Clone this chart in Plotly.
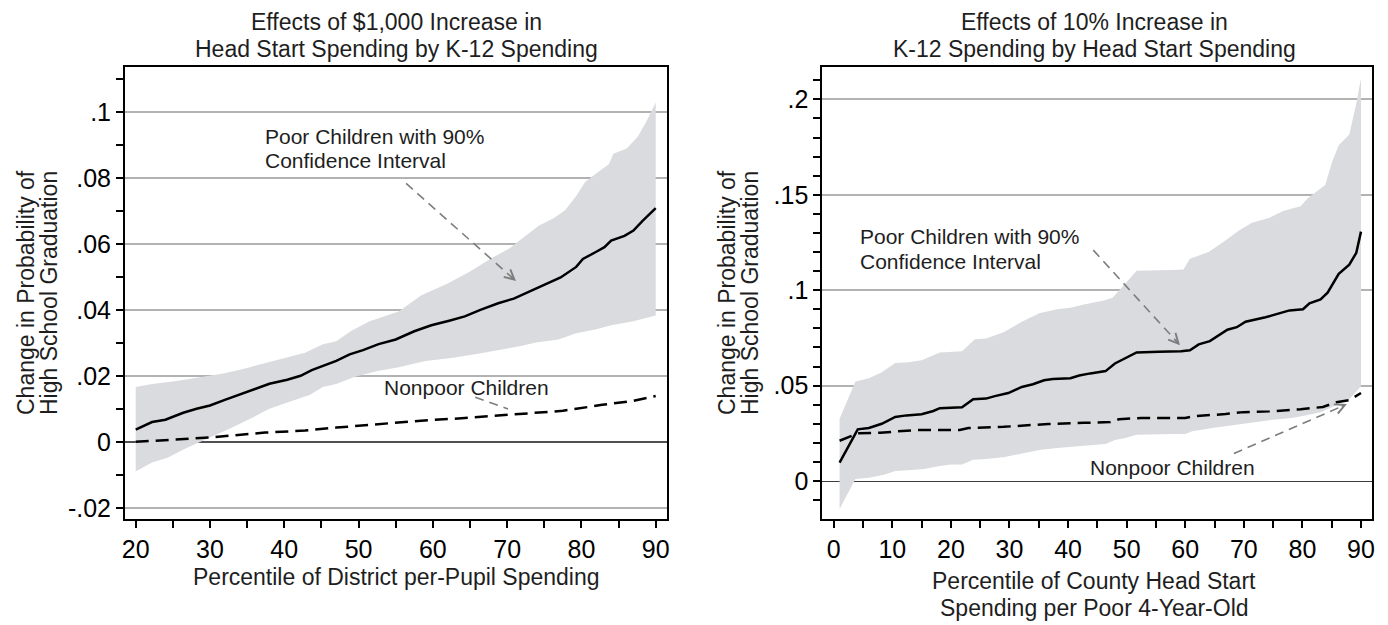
import plotly.graph_objects as go

# ---------------- Left panel data ----------------
left_poor_x = [20, 22.2, 24, 26.4, 28.2, 30, 32, 33.9, 35.9, 38, 40.4, 42.2, 43.7, 45.2, 47, 48.8, 50.6,
               52.7, 55, 57.5, 59.8, 62.2, 64.3, 66.4, 68.8, 70.9, 73.3, 75.4, 77.2, 79.3, 80.2, 82, 83.1,
               84, 85.8, 87, 88.2, 90]
left_poor_y = [0.0037, 0.006, 0.0067, 0.0088, 0.010, 0.011, 0.0127, 0.0142, 0.0158, 0.0176, 0.0188, 0.020,
               0.0217, 0.023, 0.0245, 0.0265, 0.0278, 0.0296, 0.031, 0.0335, 0.0353, 0.0367, 0.038, 0.040,
               0.042, 0.0434, 0.0458, 0.048, 0.0498, 0.053, 0.0554, 0.0576, 0.059, 0.061, 0.0624, 0.064,
               0.0669, 0.0708]
left_upper_x = [20, 22.2, 25.5, 29.7, 32, 35, 38.6, 42.8, 45.2, 47, 49.1, 51.5, 55.4, 58.4, 62, 65, 68, 70.3,
                71.8, 74.2, 76.3, 77.8, 79.3, 80.5, 82.2, 83.7, 84.3, 86.1, 87.6, 88.8, 90]
left_upper_y = [0.0166, 0.0175, 0.0184, 0.020, 0.0208, 0.0224, 0.0245, 0.027, 0.0296, 0.0305, 0.0337, 0.0365,
                0.0395, 0.0443, 0.048, 0.0516, 0.0558, 0.0586, 0.0612, 0.0654, 0.0678, 0.0702, 0.0745, 0.0787,
                0.0817, 0.0841, 0.0873, 0.0889, 0.0925, 0.0973, 0.1028]
left_lower_x = [20, 22.2, 24.3, 26.7, 29.7, 32.7, 35.7, 38, 41, 43.4, 45.2, 47, 49.4, 52.4, 55.4, 59, 62.5,
                66.1, 69, 71.5, 73.9, 76.9, 79.3, 82, 84, 87, 90]
left_lower_y = [-0.009, -0.0063, -0.0048, -0.002, 0.001, 0.004, 0.0073, 0.010, 0.0124, 0.0142, 0.0166, 0.0175,
                0.0196, 0.0214, 0.0226, 0.0245, 0.0254, 0.0267, 0.0278, 0.0289, 0.0301, 0.031, 0.0329, 0.0341,
                0.0353, 0.0365, 0.0383]
left_nonpoor_x = [20, 24, 30, 37.4, 42.8, 47, 52.4, 58.4, 64.3, 69.1, 73.3, 77.5, 79.3, 82.8, 87, 90]
left_nonpoor_y = [0, 0.0006, 0.0013, 0.0028, 0.0034, 0.0043, 0.0054, 0.0064, 0.0072, 0.008, 0.0088, 0.0094,
                  0.010, 0.0112, 0.0124, 0.0139]

left_xtick_vals = [20, 30, 40, 50, 60, 70, 80, 90]
left_ytick_vals = [-0.02, 0, 0.02, 0.04, 0.06, 0.08, 0.1]
left_ytick_text = ["-.02", "0", ".02", ".04", ".06", ".08", ".1"]

# ---------------- Right panel data ----------------
right_poor_x = [1, 4.1, 6, 8.2, 10.5, 12.4, 15, 17, 18.1, 21.9, 23.8, 26, 27.5, 29.8, 32.1, 34, 35.9, 37.4,
                40.4, 41.9, 43.8, 46.4, 48, 49.8, 51.7, 55.5, 59.3, 60.8, 62.3, 64.2, 65.7, 67.2, 68.8, 70.3,
                73.7, 75.9, 77.8, 80.1, 81.2, 83.1, 84.3, 86.2, 88, 89.2, 90]
right_poor_y = [0.0096, 0.0271, 0.0278, 0.030, 0.0336, 0.0344, 0.035, 0.0367, 0.0382, 0.0386, 0.0428, 0.0432,
                0.0445, 0.0461, 0.0493, 0.0507, 0.0528, 0.0534, 0.0539, 0.0553, 0.0564, 0.0576, 0.0616, 0.0643,
                0.0674, 0.0678, 0.068, 0.0685, 0.0716, 0.0733, 0.0762, 0.0793, 0.0806, 0.0835, 0.0858, 0.0877,
                0.0894, 0.090, 0.0931, 0.0952, 0.0987, 0.1086, 0.1134, 0.1196, 0.1307]
right_upper_x = [1, 3.7, 6, 8.2, 10.5, 12.8, 15, 17, 18.1, 21.9, 24.1, 26, 29, 32.1, 35.1, 38.1, 40.4, 42.7,
                 46.1, 47.6, 49.8, 51.7, 57.8, 59.7, 60.8, 64, 66.5, 69.1, 71.4, 74.4, 76.7, 79.7, 80.9, 82.8,
                 83.9, 85, 86.2, 88, 89.2, 90]
right_upper_y = [0.0326, 0.0522, 0.0539, 0.057, 0.0618, 0.0622, 0.0633, 0.066, 0.0674, 0.068, 0.0743, 0.0747,
                 0.0779, 0.0835, 0.0879, 0.090, 0.0908, 0.0925, 0.0946, 0.096, 0.1035, 0.1102, 0.1106, 0.1109,
                 0.1165, 0.120, 0.1253, 0.1311, 0.1353, 0.138, 0.1415, 0.144, 0.1482, 0.1524, 0.1551, 0.1666,
                 0.176, 0.1816, 0.1979, 0.211]
right_lower_x = [1, 3.7, 6, 8.6, 10.5, 13.2, 15.4, 18.1, 20, 21.9, 23.8, 26, 29, 32.1, 35.1, 38.1, 41.9, 46.4,
                 48, 49.8, 51.7, 57.8, 60, 61.2, 64.6, 67.6, 70.7, 74.4, 78.2, 80.5, 83.1, 85.8, 88, 90]
right_lower_y = [-0.0146, 0.001, 0.0017, 0.0033, 0.0052, 0.0058, 0.0063, 0.0079, 0.0086, 0.0086, 0.0111,
                 0.0115, 0.0125, 0.0146, 0.0163, 0.0173, 0.0184, 0.0194, 0.0215, 0.0225, 0.0242, 0.0246, 0.0246,
                 0.0261, 0.0278, 0.0292, 0.0305, 0.0319, 0.033, 0.0344, 0.0361, 0.0397, 0.0428, 0.0497]
right_nonpoor_x = [1, 4.1, 7.9, 10.1, 13.9, 21.5, 23, 29, 36.6, 42.7, 47.2, 48.7, 52.5, 60, 61.6, 66.9, 69.9,
                   74.4, 79.7, 83.5, 85.8, 88, 90]
right_nonpoor_y = [0.0211, 0.025, 0.0253, 0.0257, 0.0267, 0.0267, 0.0278, 0.0284, 0.0299, 0.0305, 0.0309,
                   0.0324, 0.033, 0.033, 0.034, 0.0351, 0.0361, 0.0365, 0.0376, 0.0388, 0.0413, 0.0424, 0.0461]

right_xtick_vals = [0, 10, 20, 30, 40, 50, 60, 70, 80, 90]
right_ytick_vals = [0, 0.05, 0.1, 0.15, 0.2]
right_ytick_text = ["0", ".05", ".1", ".15", ".2"]

# ---------------- Text ----------------
left_title = ["Effects of $1,000 Increase in", "Head Start Spending by K-12 Spending"]
right_title = ["Effects of 10% Increase in", "K-12 Spending by Head Start Spending"]
left_xtitle = ["Percentile of District per-Pupil Spending"]
right_xtitle = ["Percentile of County Head Start", "Spending per Poor 4-Year-Old"]
ytitle = ["Change in Probability of", "High School Graduation"]
poor_label = ["Poor Children with 90%", "Confidence Interval"]
nonpoor_label = "Nonpoor Children"

FONT = "Liberation Sans, Arial, Helvetica, sans-serif"
BAND = "rgb(218,219,222)"
ARROW = "rgb(125,125,125)"
TEXT = "rgb(30,30,30)"

# The page body has an 8px default margin: shift the whole layout by it.
OFF = 8
W, H = 1388 - OFF, 625 - OFF

fig = go.Figure()


def add_panel(xa, ya, ux, uy, lx, ly, px, py, nx, ny):
    fig.add_trace(go.Scatter(x=ux + lx[::-1], y=uy + ly[::-1], fill="toself", fillcolor=BAND,
                             line=dict(width=0), mode="lines", hoverinfo="skip", showlegend=False,
                             xaxis=xa, yaxis=ya))
    fig.add_trace(go.Scatter(x=nx, y=ny, mode="lines", line=dict(color="black", width=2.5, dash="13px,7px"),
                             showlegend=False, xaxis=xa, yaxis=ya))
    fig.add_trace(go.Scatter(x=px, y=py, mode="lines", line=dict(color="black", width=2.5),
                             showlegend=False, xaxis=xa, yaxis=ya))


add_panel("x", "y", left_upper_x, left_upper_y, left_lower_x, left_lower_y,
          left_poor_x, left_poor_y, left_nonpoor_x, left_nonpoor_y)
add_panel("x2", "y2", right_upper_x, right_upper_y, right_lower_x, right_lower_y,
          right_poor_x, right_poor_y, right_nonpoor_x, right_nonpoor_y)

# plot frame geometry (screen pixels)
LX0, LX1 = 125 - OFF, 666.7 - OFF
RX0, RX1 = 822.3 - OFF, 1372.3 - OFF
Y0, Y1 = 67.3 - OFF, 519 - OFF

common_axis = dict(showline=True, linewidth=2, linecolor="black", mirror=True, ticks="outside",
                   ticklen=7, tickwidth=1.5, tickcolor="black",
                   tickfont=dict(family=FONT, size=25, color="black"), fixedrange=True)
minor_x = dict(dtick=5, tick0=0, ticks="outside", ticklen=7, tickwidth=1.5, tickcolor="black", showgrid=False)
minor_y = dict(dtick=0.01, tick0=0, ticks="outside", ticklen=7, tickwidth=1.5, tickcolor="black", showgrid=False)

fig.update_layout(
    width=W, height=H, margin=dict(l=0, r=0, t=0, b=0, autoexpand=False),
    paper_bgcolor="white", plot_bgcolor="white", showlegend=False,
    xaxis=dict(domain=[LX0 / W, LX1 / W], range=[18.56, 91.48], tickmode="array", tickvals=left_xtick_vals,
               showgrid=False, zeroline=False, anchor="y", minor=minor_x, **common_axis),
    yaxis=dict(domain=[1 - Y1 / H, 1 - Y0 / H], range=[-0.0234, 0.1135], tickmode="array",
               tickvals=left_ytick_vals, ticktext=left_ytick_text, showgrid=True, gridcolor="rgb(178,178,178)",
               gridwidth=1.5, zeroline=True, zerolinecolor="rgb(80,80,80)", zerolinewidth=1.5, anchor="x",
               minor=minor_y, **common_axis),
    xaxis2=dict(domain=[RX0 / W, RX1 / W], range=[-1.95, 91.93], tickmode="array", tickvals=right_xtick_vals,
                showgrid=False, zeroline=False, anchor="y2", minor=minor_x, **common_axis),
    yaxis2=dict(domain=[1 - Y1 / H, 1 - Y0 / H], range=[-0.0199, 0.2168], tickmode="array",
                tickvals=right_ytick_vals, ticktext=right_ytick_text, showgrid=True, gridcolor="rgb(178,178,178)",
                gridwidth=1.5, zeroline=True, zerolinecolor="rgb(60,60,60)", zerolinewidth=1.2, anchor="x2",
                minor=minor_y, **common_axis),
)

annotations = []


def paper_text(text, xpx, ypx, size=23, angle=0, xanchor="center"):
    annotations.append(dict(text=text, x=(xpx - OFF) / W, y=1 - (ypx - OFF) / H, xref="paper", yref="paper",
                            showarrow=False, textangle=angle, xanchor=xanchor, yanchor="middle",
                            font=dict(family=FONT, size=size, color=TEXT)))


# titles (screen pixel positions)
for i, line in enumerate(left_title):
    paper_text(line, 396, 22 + 27.5 * i)
for i, line in enumerate(right_title):
    paper_text(line, 1094, 22 + 27.5 * i)
# x titles
paper_text(left_xtitle[0], 396, 577)
for i, line in enumerate(right_xtitle):
    paper_text(line, 1094, 581 + 26.6 * i)
# y titles
for i, line in enumerate(ytitle):
    paper_text(line, 26 + 23 * i, 293, angle=-90)
    paper_text(line, 727 + 23 * i, 293, angle=-90)


def data_text(text, x, y, xr, yr):
    annotations.append(dict(text=text, x=x, y=y, xref=xr, yref=yr, showarrow=False, xanchor="left",
                            yanchor="middle", font=dict(family=FONT, size=21, color=TEXT)))


data_text(poor_label[0], 37.2, 0.0926, "x", "y")
data_text(poor_label[1], 37.2, 0.0854, "x", "y")
data_text(nonpoor_label, 53.1, 0.0165, "x", "y")
data_text(poor_label[0], 4.1, 0.128, "x2", "y2")
data_text(poor_label[1], 4.1, 0.1149, "x2", "y2")
data_text(nonpoor_label, 43.4, 0.0070, "x2", "y2")

shapes = []


def dashed_arrow(x0, y0, x1, y1, xr, yr):
    shapes.append(dict(type="line", x0=x0, y0=y0, x1=x1 - 0.04 * (x1 - x0), y1=y1 - 0.04 * (y1 - y0),
                       xref=xr, yref=yr, line=dict(color=ARROW, width=1.6, dash="9px,6px")))
    annotations.append(dict(text="", x=x1, y=y1, ax=x1 - 0.06 * (x1 - x0), ay=y1 - 0.06 * (y1 - y0),
                            xref=xr, yref=yr, axref=xr, ayref=yr, showarrow=True, arrowhead=5,
                            arrowsize=1.3, arrowwidth=1.5, arrowcolor=ARROW))


dashed_arrow(56.4, 0.0783, 71.2, 0.0487, "x", "y")
dashed_arrow(65.7, 0.0135, 70.3, 0.0098, "x", "y")
dashed_arrow(44.3, 0.121, 59.1, 0.0712, "x2", "y2")
dashed_arrow(68.3, 0.0144, 87.6, 0.0403, "x2", "y2")

fig.update_layout(annotations=annotations, shapes=shapes)

fig.write_html("out.html")
